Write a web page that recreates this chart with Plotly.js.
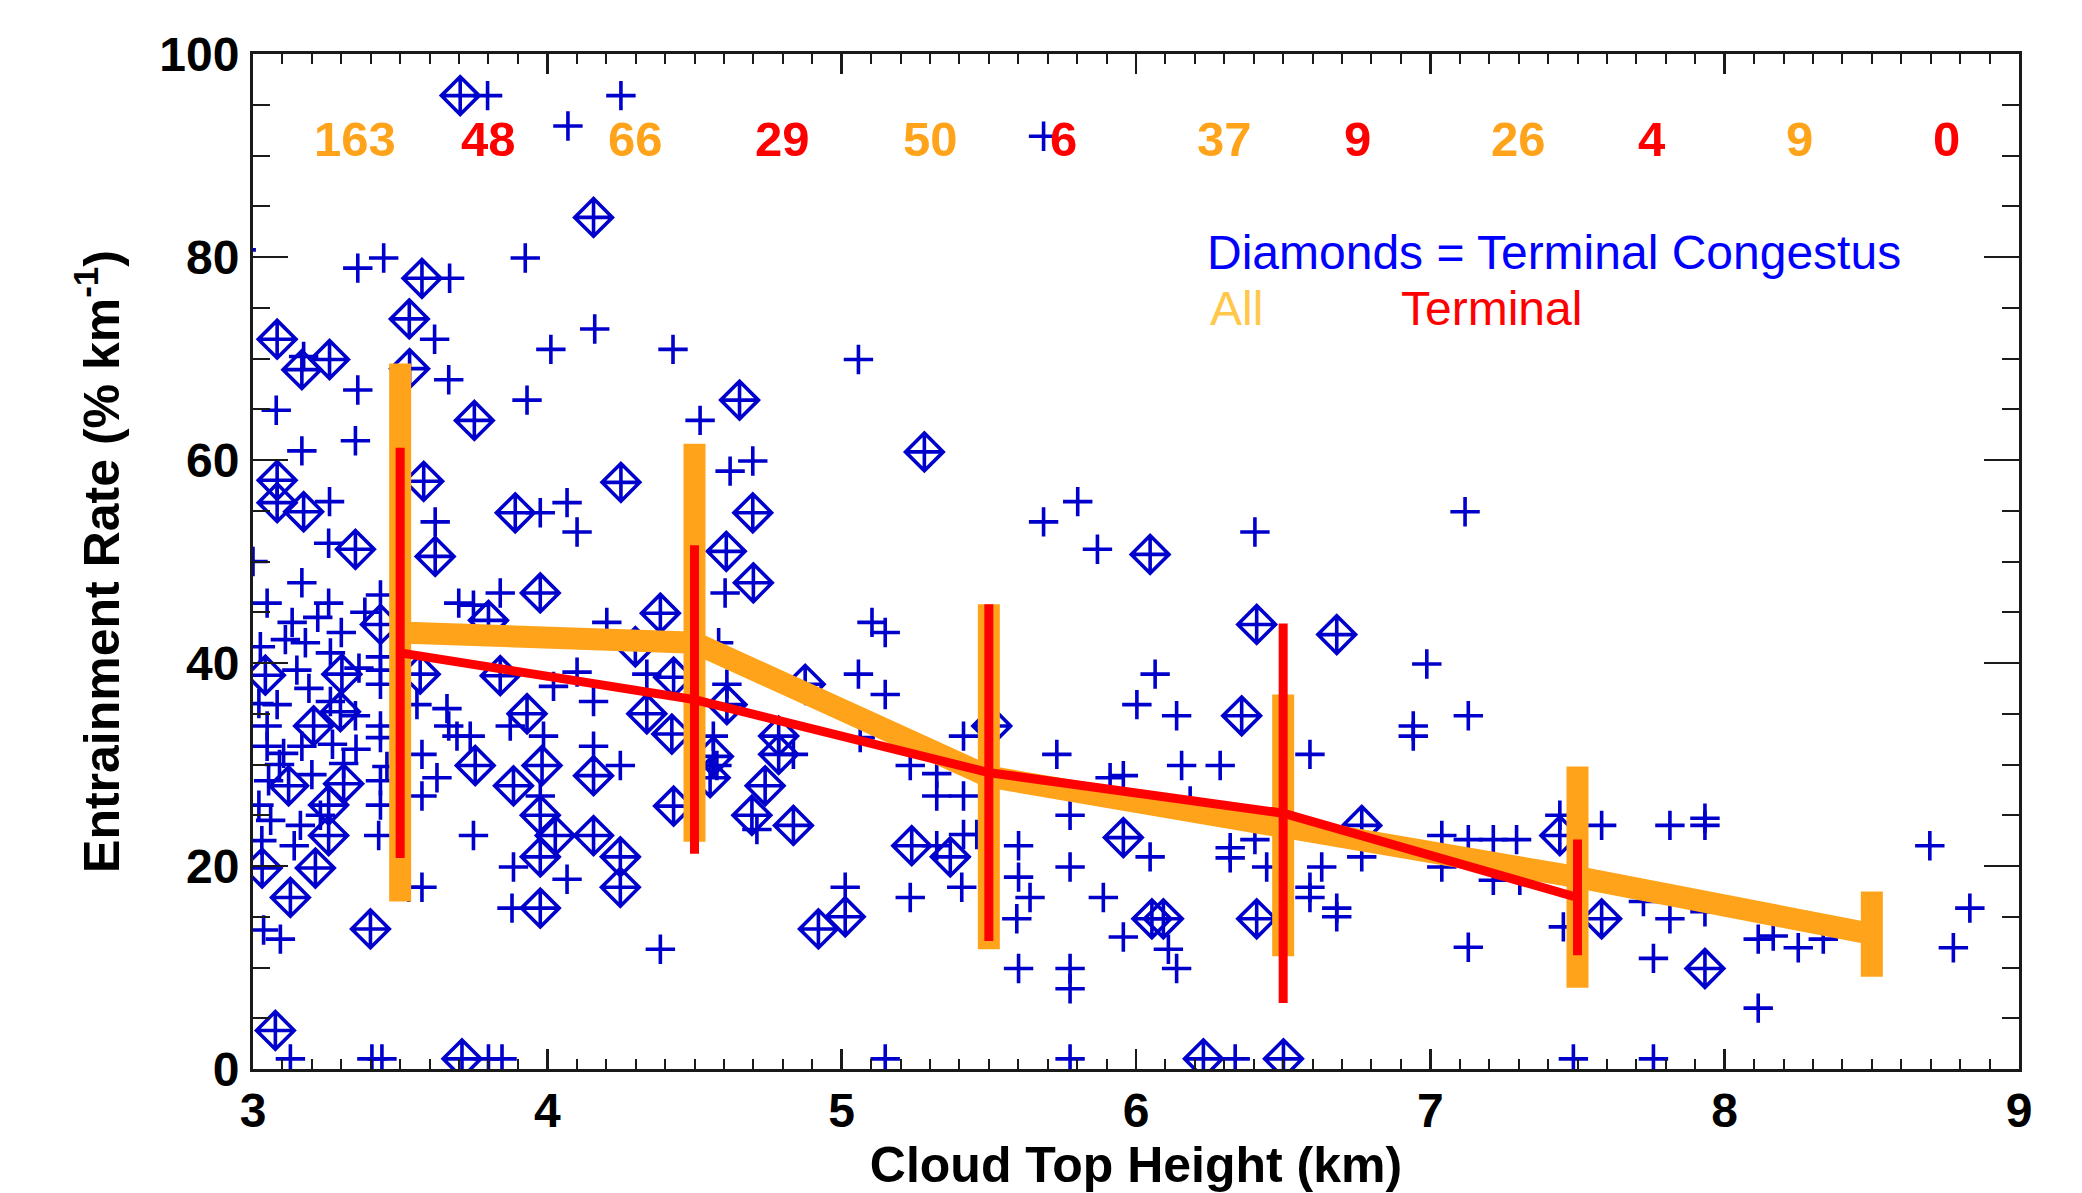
<!DOCTYPE html>
<html>
<head>
<meta charset="utf-8">
<script src="https://cdn.plot.ly/plotly-3.0.1.min.js"></script>
<style>
html,body{margin:0;padding:0;background:#fff;}
#chart{width:2082px;height:1193px;}
</style>
</head>
<body>
<div id="chart"></div>
<script>
// ---- Scatter: all clouds (plus signs) ----
const plusX = [
 3.797,4.250,4.070,3.356,3.444,3.668,3.925,3.617,3.172,3.356,3.665,3.079,3.166,3.348,3.931,4.012,4.161,4.427,4.519,
 3.260,3.619,3.976,4.067,4.101,3.257,2.96,
 5.686,5.057,4.621,4.698,5.686,5.802,5.869,7.118,6.404,
 3.00,3.166,3.048,3.257,3.133,3.178,3.433,3.699,3.749,3.840,4.202,3.025,3.263,3.149,3.433,3.433,3.433,4.021,4.101,4.157,
 4.338,3.082,3.263,3.348,3.433,3.433,3.557,3.659,3.665,3.693,3.738,3.874,3.987,4.157,4.248,3.048,3.048,3.104,3.166,
 3.308,3.574,3.625,3.455,3.053,3.229,3.161,3.433,3.433,3.574,3.427,3.749,3.976,3.885,4.067,3.529,3.574,3.880,3.036,
 3.093,4.384,3.127,3.404,3.438,3.800,3.846,
 3.19,3.11,3.22,3.30,3.36,3.38,3.09,3.20,3.27,3.35,3.14,3.06,3.02,3.02,3.03,
 4.604,5.103,5.148,5.057,5.148,6.065,6.003,4.582,4.610,4.564,4.576,4.836,4.712,5.063,5.233,5.323,5.323,5.414,5.414,
 5.459,5.414,5.323,5.408,5.233,5.012,5.601,5.601,5.640,5.595,5.601,5.776,5.776,5.731,5.776,5.776,5.889,5.957,5.957,
 5.912,6.048,5.148,5.776,
 6.138,6.155,6.286,6.591,6.988,7.129,6.942,6.942,6.184,6.320,6.320,6.404,6.444,6.631,6.591,6.591,6.682,6.682,6.767,
 7.039,7.039,7.129,7.214,7.293,7.214,7.304,7.440,7.582,7.452,6.110,6.138,7.129,6.337,7.486,
 7.814,7.933,7.933,7.814,7.724,7.933,7.758,8.114,8.165,8.250,8.335,8.114,8.697,8.833,8.777,7.758
];
const plusY = [
 95.9,95.9,92.9,78.9,79.9,77.9,79.9,71.9,70.2,66.9,67.9,64.9,60.9,61.9,65.9,70.9,72.9,70.9,63.9,
 55.9,53.9,54.8,55.8,52.9,51.8,80.7,
 91.9,69.9,58.9,59.9,53.9,55.9,51.2,54.9,52.9,
 50.0,47.9,45.9,45.9,44.0,42.0,46.7,45.9,45.7,46.9,44.0,41.6,41.0,39.3,40.6,39.3,37.9,37.7,39.1,36.2,
 38.9,35.9,36.2,34.8,33.8,32.65,35.9,35.5,33.8,32.8,32.8,33.8,32.8,31.8,29.9,33.8,31.8,31.1,31.8,
 30.1,31.0,28.7,29.8,28.4,25.0,24.0,28.4,26.0,26.9,23.0,23.0,26.9,19.9,18.7,17.9,17.9,15.85,13.7,
 12.8,11.8,1.0,1.0,1.0,1.0,1.0,
 37.5,42.3,44.5,43.0,39.5,45.0,30.0,29.0,32.0,31.5,22.0,24.5,36.0,26.0,22.5,
 46.9,44.0,43.0,38.9,36.9,38.9,35.9,42.0,37.9,32.8,29.9,31.0,23.6,32.65,29.9,26.9,29.1,26.9,32.8,
 23.1,23.1,22.0,17.9,16.9,17.9,22.0,18.9,16.9,14.8,9.9,9.9,7.9,31.0,25.0,19.9,16.9,13.0,28.9,
 28.7,20.9,1.0,1.0,
 34.8,29.9,29.9,31.0,39.9,34.8,33.8,32.8,26.4,21.8,20.8,22.6,19.9,19.9,17.9,16.9,15.85,15.0,20.9,
 23.0,19.9,22.6,22.6,22.6,18.6,18.6,25.0,24.0,14.0,11.8,9.9,12.0,1.0,1.0,
 24.0,24.7,24.0,14.8,16.5,15.5,10.9,12.8,13.1,11.95,12.8,6.0,22.0,15.85,11.95,1.0
];

// ---- Scatter: terminal congestus (diamonds) ----
const diamX = [
 3.704,4.157,3.574,3.531,3.082,3.166,3.260,3.532,3.752,4.250,3.082,3.082,3.172,3.580,3.891,3.348,3.619,
 4.653,4.698,5.281,6.048,4.608,
 3.433,3.800,3.976,4.384,4.299,3.042,3.302,3.568,3.840,4.429,4.338,4.423,3.206,3.297,3.931,3.755,3.982,3.885,
 4.157,3.121,3.308,3.257,3.257,3.976,4.027,4.157,4.248,4.429,3.031,3.212,3.127,3.976,4.248,3.976,3.399,3.076,3.710,
 4.700,4.876,4.610,4.564,4.553,4.786,4.786,4.740,4.695,4.836,5.510,5.238,5.369,5.012,4.921,5.957,6.054,
 6.410,6.682,6.359,6.767,7.440,7.582,6.093,6.410,6.229,6.501,7.933
];
const diamY = [
 95.9,83.9,77.9,73.9,71.9,68.9,69.9,69.0,63.9,57.8,58.0,55.8,54.9,57.9,54.8,51.2,50.5,
 65.9,54.8,60.8,50.7,51.0,
 43.8,44.2,46.9,44.9,41.6,38.8,38.9,38.9,38.75,38.6,35.0,33.0,33.8,35.2,35.0,29.9,29.9,27.9,
 28.9,27.9,28.1,26.0,23.0,25.0,23.0,23.0,20.9,25.9,19.8,19.8,16.9,20.9,17.9,15.85,13.8,3.8,1.0,
 47.9,37.9,35.9,30.8,28.7,32.8,31.0,27.9,25.0,24.0,33.8,22.0,20.9,15.0,13.8,22.8,14.8,
 43.8,42.8,34.8,24.0,23.0,14.8,14.8,14.8,1.0,1.0,9.9
];

// ---- Binned statistics ----
const binCenters = [3.5, 4.5, 5.5, 6.5, 7.5, 8.5];
const allMean = [43.0, 42.0, 28.8, 24.0, 18.9, 13.3];
const allStd  = [26.5, 19.6, 17.0, 12.9, 10.9, 4.2];
const termCenters = [3.5, 4.5, 5.5, 6.5, 7.5];
const termMean = [41.0, 36.4, 29.2, 25.2, 16.9];
const termStd  = [20.2, 15.2, 16.6, 18.7, 5.7];
const allCounts  = [163, 66, 50, 37, 26, 9];
const termCounts = [48, 29, 6, 9, 4, 0];

const xTickVals = [3, 4, 5, 6, 7, 8, 9];
const yTickVals = [0, 20, 40, 60, 80, 100];

const FONT = 'Liberation Sans, Arial, Helvetica, sans-serif';
const BLUE = '#0000CC';
const ORANGE = '#FFA31A';
const RED = '#FF0000';
const AXC = '#1a1a1a';

const traces = [
 {type:'scatter', mode:'markers', x:plusX, y:plusY, hoverinfo:'skip',
  marker:{symbol:'cross-thin-open', size:21, color:BLUE, line:{width:3.6, color:BLUE}}},
 {type:'scatter', mode:'markers', x:diamX, y:diamY, hoverinfo:'skip',
  marker:{symbol:'diamond-cross-open', size:29, color:BLUE, line:{width:3.6, color:BLUE}}},
 {type:'scatter', mode:'lines', x:binCenters, y:allMean,
  line:{color:ORANGE, width:22},
  error_y:{type:'data', array:allStd, visible:true, thickness:22, width:0, color:ORANGE}},
 {type:'scatter', mode:'lines', x:termCenters, y:termMean,
  line:{color:RED, width:9},
  error_y:{type:'data', array:termStd, visible:true, thickness:9, width:0, color:RED}}
];

const annotations = [];
binCenters.forEach((c, i) => {
  annotations.push({x:c - 0.3, y:91.6, xref:'x', yref:'y', text:String(allCounts[i]),
    showarrow:false, xanchor:'left', yanchor:'middle',
    font:{family:FONT, size:49, color:ORANGE, weight:'bold'}});
  annotations.push({x:c + 0.2, y:91.6, xref:'x', yref:'y', text:String(termCounts[i]),
    showarrow:false, xanchor:'left', yanchor:'middle',
    font:{family:FONT, size:49, color:RED, weight:'bold'}});
});
annotations.push({x:6.235, y:80.4, xref:'x', yref:'y', text:'Diamonds = Terminal Congestus',
  showarrow:false, xanchor:'left', yanchor:'middle', font:{family:FONT, size:48, color:'#0000FF'}});
annotations.push({x:6.246, y:74.9, xref:'x', yref:'y', text:'All',
  showarrow:false, xanchor:'left', yanchor:'middle', font:{family:FONT, size:48, color:'#FFC84B'}});
annotations.push({x:6.894, y:74.9, xref:'x', yref:'y', text:'Terminal',
  showarrow:false, xanchor:'left', yanchor:'middle', font:{family:FONT, size:48, color:RED}});

const layout = {
  width:2082, height:1193,
  margin:{l:253, r:63, t:54, b:124, pad:0},
  paper_bgcolor:'#fff', plot_bgcolor:'#fff',
  showlegend:false,
  font:{family:FONT, color:'#000'},
  xaxis:{
    range:[3,9], tickvals:xTickVals, ticks:'inside', ticklen:20, tickwidth:2.5, tickcolor:AXC,
    showline:true, linewidth:3, linecolor:AXC, mirror:'ticks', showgrid:false, zeroline:false,
    minor:{ticks:'inside', ticklen:10, tickwidth:2, dtick:0.1, tickcolor:AXC, showgrid:false},
    tickfont:{family:FONT, size:48, weight:'bold', color:'#000'},
    ticklabelstandoff:-3,
    title:{text:'Cloud Top Height (km)', font:{family:FONT, size:50, weight:'bold', color:'#000'}, standoff:40}
  },
  yaxis:{
    range:[0,100], tickvals:yTickVals, ticks:'inside', ticklen:35, tickwidth:2.5, tickcolor:AXC,
    showline:true, linewidth:3, linecolor:AXC, mirror:'ticks', showgrid:false, zeroline:false,
    minor:{ticks:'inside', ticklen:17, tickwidth:2, dtick:5, tickcolor:AXC, showgrid:false},
    tickfont:{family:FONT, size:48, weight:'bold', color:'#000'},
    ticklabelstandoff:1,
    title:{text:'Entrainment Rate (% km<sup>-1</sup>)', font:{family:FONT, size:50, weight:'bold', color:'#000'}, standoff:24}
  },
  annotations:annotations
};

Plotly.newPlot('chart', traces, layout, {staticPlot:true, displayModeBar:false});
</script>
</body>
</html>
